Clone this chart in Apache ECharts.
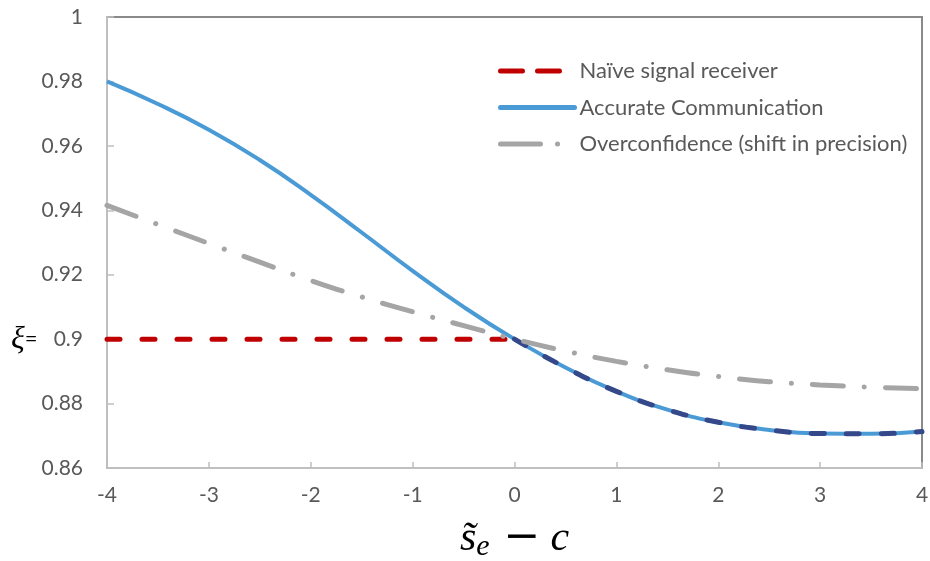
<!DOCTYPE html>
<html>
<head>
<meta charset="utf-8">
<script src="https://cdn.jsdelivr.net/npm/echarts@6/dist/echarts.min.js"></script>
<style>
  html, body { margin: 0; padding: 0; background: #fff; }
  #chart { width: 930px; height: 561px; }
</style>
</head>
<body>
<div id="chart"></div>
<script>
// x values (s_e - c)
const xs = [-4, -3.5, -3, -2.5, -2, -1.5, -1, -0.5, 0, 0.5, 1, 1.5, 2, 2.5, 3, 3.5, 4];

// series
const naive = [0.9, 0.9, 0.9, 0.9, 0.9, 0.9, 0.9, 0.9, 0.9,
               0.8912, 0.8838, 0.8781, 0.8742, 0.8718, 0.8707, 0.8706, 0.8713];
const accurate = [0.980, 0.9730, 0.9650, 0.9556, 0.9448, 0.9331, 0.9212, 0.9100, 0.900,
                  0.8912, 0.8838, 0.8781, 0.8742, 0.8718, 0.8707, 0.8706, 0.8713];
const overconf = [0.9415, 0.9356, 0.9297, 0.9239, 0.9182, 0.9131, 0.9085, 0.9042, 0.900,
                  0.8963, 0.8931, 0.8905, 0.8884, 0.8868, 0.8858, 0.8851, 0.8846];

const seriesNames = ['Naïve signal receiver', 'Accurate Communication', 'Overconfidence (shift in precision)'];

const pairs = (ys) => xs.map((x, i) => [x, ys[i]]);
// naive receiver: red up to 0, dark blue on top of the accurate curve after 0
const naiveLeft = pairs(naive).filter(p => p[0] <= 0);
const naiveRight = pairs(naive).filter(p => p[0] >= 0);

const chart = echarts.init(document.getElementById('chart'));

const option = {
  backgroundColor: '#fff',
  animation: false,
  grid: {
    left: 107, right: 8, top: 17, bottom: 93,
    outerBoundsMode: 'none',
    show: true,
    borderColor: '#8a8a8a',
    borderWidth: 2
  },
  legend: {
    orient: 'vertical',
    left: 493,
    top: 55,
    itemWidth: 74,
    itemHeight: 14,
    itemGap: 14.5,
    itemStyle: { opacity: 0 },
    textStyle: { fontFamily: 'Lato', fontSize: 22, color: '#595959' },
    data: [
      { name: seriesNames[0], lineStyle: { type: [22, 15], width: 5, cap: 'round' } },
      { name: seriesNames[1], lineStyle: { width: 5, cap: 'round' } },
      { name: seriesNames[2], lineStyle: { type: [40, 17, 0.1, 30], width: 5, cap: 'round' } }
    ]
  },
  xAxis: {
    type: 'value',
    min: -4, max: 4, interval: 1,
    axisLine: { onZero: false, lineStyle: { color: '#bfbfbf', width: 2 } },
    axisTick: { inside: true, length: 6, lineStyle: { color: '#bfbfbf', width: 1.5 } },
    splitLine: { show: false },
    axisLabel: { margin: 17, fontFamily: 'Lato', fontSize: 21, color: '#595959' },
    name: '{s|s̃}{sub|e}{op|−}{c|c}',
    nameLocation: 'middle',
    nameGap: 48,
    nameTextStyle: {
      rich: {
        s: { fontFamily: 'Liberation Serif', fontStyle: 'italic', fontSize: 42, lineHeight: 46, color: '#000', verticalAlign: 'middle' },
        sub: { fontFamily: 'Liberation Serif', fontStyle: 'italic', fontSize: 30, lineHeight: 20, color: '#000', verticalAlign: 'bottom' },
        op: { fontFamily: 'DejaVu Serif', fontSize: 44, lineHeight: 46, color: '#000', verticalAlign: 'middle', padding: [0, 10, 0, 14] },
        c: { fontFamily: 'Liberation Serif', fontStyle: 'italic', fontSize: 42, lineHeight: 46, color: '#000', verticalAlign: 'middle' }
      }
    }
  },
  yAxis: {
    type: 'value',
    min: 0.86, max: 1, interval: 0.02,
    axisLine: { show: true, onZero: false, lineStyle: { color: '#bfbfbf', width: 2 } },
    axisTick: { show: true, inside: true, length: 7, lineStyle: { color: '#bfbfbf', width: 1.5 } },
    splitLine: { show: false },
    axisLabel: {
      margin: 24,
      fontFamily: 'Lato', fontSize: 21, color: '#595959',
      formatter: (v) => Math.abs(v - 0.9) < 1e-9 ? '{xi|ξ}{eq|=}   0.9' : String(+v.toFixed(2)),
      rich: {
        xi: { fontFamily: 'Liberation Serif', fontStyle: 'italic', fontSize: 32, color: '#000' },
        eq: { fontFamily: 'Lato', fontSize: 22, color: '#000' }
      }
    }
  },
  series: [
    {
      name: seriesNames[1],
      type: 'line',
      data: pairs(accurate),
      smooth: true,
      symbol: 'none',
      lineStyle: { color: '#4a9ad6', width: 4 },
      itemStyle: { color: '#4a9ad6' },
      z: 2
    },
    {
      name: seriesNames[0],
      type: 'line',
      data: naiveLeft,
      symbol: 'none',
      lineStyle: { color: '#c00000', width: 5, type: [13, 22], cap: 'round' },
      itemStyle: { color: '#c00000' },
      z: 3
    },
    {
      name: 'naive-right',
      type: 'line',
      data: naiveRight,
      smooth: true,
      symbol: 'none',
      lineStyle: { color: '#34488a', width: 5, type: [13, 22], cap: 'round' },
      itemStyle: { color: '#34488a' },
      z: 3
    },
    {
      name: seriesNames[2],
      type: 'line',
      data: pairs(overconf),
      smooth: true,
      symbol: 'none',
      lineStyle: { color: '#a5a5a5', width: 5, type: [31, 21, 0.1, 21], cap: 'round' },
      itemStyle: { color: '#a5a5a5' },
      z: 4
    }
  ]
};

chart.setOption(option);
</script>
</body>
</html>
